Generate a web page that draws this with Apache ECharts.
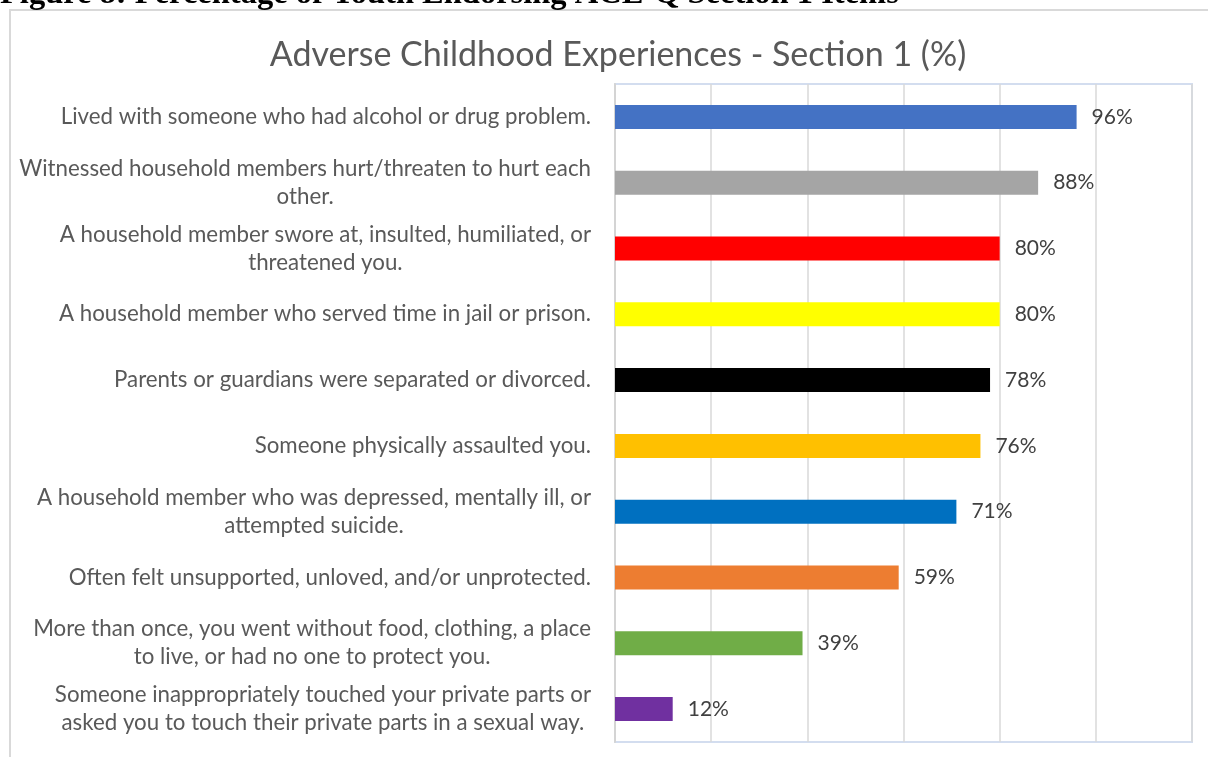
<!DOCTYPE html>
<html>
<head>
<meta charset="utf-8">
<script src="https://cdn.jsdelivr.net/npm/echarts@6/dist/echarts.min.js"></script>
<style>
  html, body { margin: 0; padding: 0; background: #fff; }
  #chart { width: 1208px; height: 757px; }
</style>
</head>
<body>
<div id="chart"></div>
<script>
// ACE-Q Section 1 items, top to bottom
const categories = [
  'Lived with someone who had alcohol or drug problem.',
  'Witnessed household members hurt/threaten to hurt each\nother.',
  'A household member swore at, insulted, humiliated, or\nthreatened you.',
  'A household member who served time in jail or prison.',
  'Parents or guardians were separated or divorced.',
  'Someone physically assaulted you.',
  'A household member who was depressed, mentally ill, or\nattempted suicide.',
  'Often felt unsupported, unloved, and/or unprotected.',
  'More than once, you went without food, clothing, a place\nto live, or had no one to protect you.',
  'Someone inappropriately touched your private parts or\nasked you to touch their private parts in a sexual way.'
];

// Percentage of youth endorsing each item
const percentages = [96, 88, 80, 80, 78, 76, 71, 59, 39, 12];

// One fill per bar
const barColors = [
  '#4472C4', '#A5A5A5', '#FF0000', '#FFFF00', '#000000',
  '#FFC000', '#0070C0', '#ED7D31', '#70AD47', '#7030A0'
];

const figureCaption = 'Figure 8: Percentage of Youth Endorsing ACE-Q Section 1 Items';
const chartTitle = 'Adverse Childhood Experiences - Section 1 (%)';

const labelFamily = 'Lato';
const chart = echarts.init(document.getElementById('chart'), null, { renderer: 'canvas' });

chart.setOption({
  animation: false,
  backgroundColor: '#ffffff',
  title: {
    text: chartTitle,
    left: 613,
    top: 33,
    textAlign: 'center',
    textStyle: { fontFamily: labelFamily, fontWeight: 'normal', fontSize: 34, color: '#595959' }
  },
  graphic: [
    {
      type: 'rect',
      silent: true,
      z: -1,
      shape: { x: 10, y: 10, width: 1220, height: 780 },
      style: { fill: 'none', stroke: '#d9d9d9', lineWidth: 2 }
    },
    {
      type: 'text',
      silent: true,
      x: 0,
      y: 11,
      style: {
        text: figureCaption,
        font: 'bold 32.5px "Liberation Serif"',
        fill: '#000000',
        textVerticalAlign: 'bottom'
      }
    }
  ],
  grid: {
    left: 615,
    right: 16,
    top: 84,
    bottom: 15,
    show: true,
    borderColor: '#d3ddef',
    borderWidth: 2,
    containLabel: false
  },
  xAxis: {
    type: 'value',
    min: 0,
    max: 120,
    interval: 20,
    axisLabel: { show: false },
    axisLine: { show: false },
    axisTick: { show: false },
    splitLine: { show: true, lineStyle: { color: '#d9d9d9', width: 1.5 } }
  },
  yAxis: {
    type: 'category',
    inverse: true,
    data: categories,
    axisLine: { show: true, lineStyle: { color: '#d4d4d4', width: 2 } },
    axisTick: { show: false },
    axisLabel: {
      margin: 24,
      align: 'right',
      verticalAlign: 'middle',
      formatter: function (value) {
        return value.split('\n').map(function (line) { return '{c|' + line + '}'; }).join('\n');
      },
      rich: {
        c: {
          align: 'center',
          fontFamily: labelFamily,
          fontSize: 22.3,
          lineHeight: 28,
          color: '#595959'
        }
      }
    }
  },
  series: [{
    type: 'bar',
    barWidth: 24,
    data: percentages.map(function (v, i) {
      return { value: v, itemStyle: { color: barColors[i] } };
    }),
    label: {
      show: true,
      position: 'right',
      distance: 15,
      formatter: '{c}%',
      fontFamily: labelFamily,
      fontSize: 21,
      color: '#404040'
    }
  }]
});
</script>
</body>
</html>
